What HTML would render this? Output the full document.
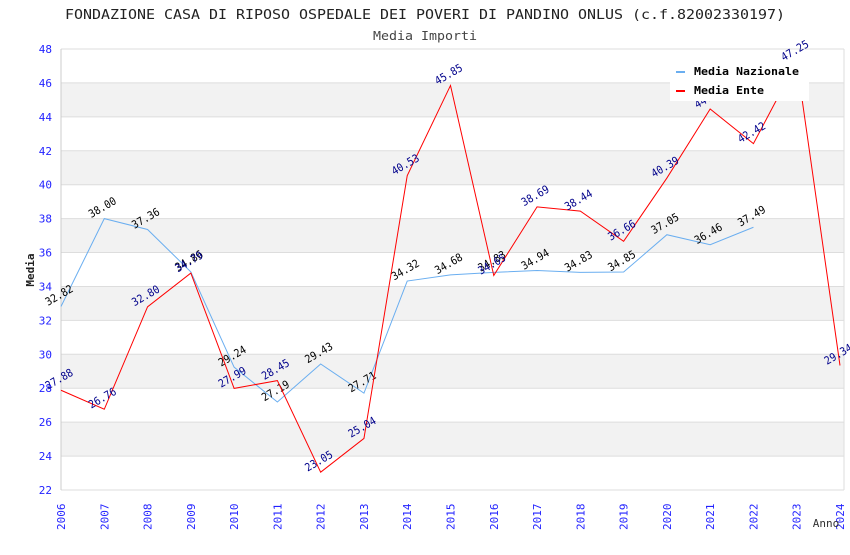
<!DOCTYPE html>
<html><head><meta charset="utf-8"><style>
body{margin:0;background:#fff;}
svg text{font-family:"DejaVu Sans Mono","Liberation Mono",monospace;}
</style></head><body>
<svg id="c" width="850" height="550" xmlns="http://www.w3.org/2000/svg">
<text x="425" y="19" text-anchor="middle" font-size="13" fill="#222" textLength="720" lengthAdjust="spacingAndGlyphs">FONDAZIONE CASA DI RIPOSO OSPEDALE DEI POVERI DI PANDINO ONLUS (c.f.82002330197)</text>
<text x="425" y="40" text-anchor="middle" font-size="12" fill="#444" textLength="104" lengthAdjust="spacingAndGlyphs">Media Importi</text>
<g id="grid"></g>
<g id="axes"></g>
<g id="series"></g>
<text x="34" y="270" font-size="11" font-weight="bold" fill="#222" text-anchor="middle" transform="rotate(-90 34 270)">Media</text>
<text x="826" y="527" font-size="11" fill="#333" text-anchor="middle">Anno</text>
<g>
<rect x="670" y="60" width="139" height="41" fill="#fff"/>
<rect x="676" y="71" width="9" height="2" fill="#6aaef0"/>
<text x="694" y="75" font-size="11" font-weight="bold" fill="#000" textLength="105" lengthAdjust="spacingAndGlyphs">Media Nazionale</text>
<rect x="676" y="90" width="9" height="2" fill="#f00"/>
<text x="694" y="94" font-size="11" font-weight="bold" fill="#000" textLength="70" lengthAdjust="spacingAndGlyphs">Media Ente</text>
</g>
</svg>
<script>
const years=[2006,2007,2008,2009,2010,2011,2012,2013,2014,2015,2016,2017,2018,2019,2020,2021,2022,2023,2024];
const nazionale=[32.82,38.00,37.36,34.86,29.24,27.19,29.43,27.71,34.32,34.68,34.83,34.94,34.83,34.85,37.05,36.46,37.49];
const ente=[27.88,26.76,32.80,34.79,27.99,28.45,23.05,25.04,40.53,45.85,34.65,38.69,38.44,36.66,40.39,44.46,42.42,47.25,29.34];
const yTicks=[22,24,26,28,30,32,34,36,38,40,42,44,46,48];
const NS="http://www.w3.org/2000/svg";
const X0=61,X1=840,Y0=490,Y1=49,ymin=22,ymax=48;
function xs(i){return X0+(X1-X0)*(years[i]-years[0])/(years[years.length-1]-years[0]);}
function ys(v){return Y0-(Y0-Y1)*(v-ymin)/(ymax-ymin);}
function mk(t,a,p){const e=document.createElementNS(NS,t);for(const k in a)e.setAttribute(k,a[k]);p.appendChild(e);return e;}
const grid=document.getElementById('grid'),axes=document.getElementById('axes'),ser=document.getElementById('series');
for(let i=0;i<yTicks.length-1;i++){
 if(i%2===1){const r=mk('rect',{x:X0,y:ys(yTicks[i+1]),width:X1-X0+4,height:ys(yTicks[i])-ys(yTicks[i+1]),fill:'#f2f2f2'},grid);
 
 }
}
yTicks.forEach(v=>{
 const l=mk('line',{x1:X0,x2:X1+4,y1:ys(v),y2:ys(v),stroke:'#ddd'},grid);
 
 
 const t=mk('text',{x:X0-9,y:ys(v)+4,'text-anchor':'end','font-size':11,fill:'#22f'},axes);
 t.textContent=v;
 
 
});
mk('line',{x1:X0,x2:X0,y1:Y1,y2:Y0,stroke:'#ccc'},axes);
mk('line',{x1:X1+4,x2:X1+4,y1:Y1,y2:Y0,stroke:'#ddd'},axes);
years.forEach((y,i)=>{
 const x=xs(i)+4,yy=530;
 const t=mk('text',{x:x,y:yy,'font-size':11,fill:'#22f',transform:`rotate(-90 ${x} ${yy})`},axes);
 t.textContent=y;
 
 
});
function series(vals,color,lc,name){
 const pts=vals.map((v,i)=>xs(i)+','+ys(v)).join(' ');
 const p=mk('polyline',{points:pts,fill:'none',stroke:color,'stroke-width':1},ser);
 
 
 vals.forEach((v,i)=>{
  const x=xs(i),y=ys(v)-8;
  const t=mk('text',{x:x,y:y,'font-size':11,fill:lc,'text-anchor':'middle',textLength:30,lengthAdjust:'spacingAndGlyphs',transform:`rotate(-30 ${x} ${y})`},ser);
  t.textContent=v.toFixed(2);
  
  
 });
}
series(nazionale,'#6aaef0','#000','nazionale');
series(ente,'#f00','#00008b','ente');
</script>
</body></html>
